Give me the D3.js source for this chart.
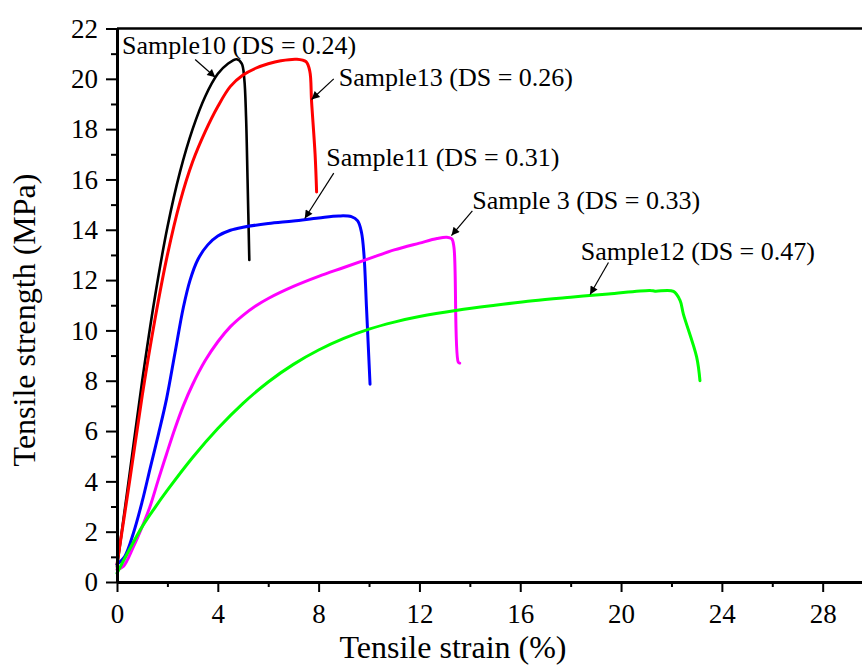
<!DOCTYPE html>
<html>
<head>
<meta charset="utf-8">
<script src="https://cdn.jsdelivr.net/npm/d3@7"></script>
<style>
html,body{margin:0;padding:0;background:#fff;}
svg{display:block;}
text{font-family:"Liberation Serif","Times New Roman",serif;fill:#000;}
</style>
</head>
<body>
<svg id="chart" width="862" height="665"></svg>
<script>
// ---- data (strain %, stress MPa) ----
const strain10 = [0,0.5,1.0,1.5,2.0,2.5,3.0,3.5,4.0,4.4,4.75,4.95,5.05,5.12,5.18,5.25];
const stress10 = [0.6,4.3,8.0,11.3,14.1,16.3,18.0,19.3,20.2,20.6,20.78,20.6,20.0,18.5,16.0,12.8];

const strain13 = [0,0.5,1.0,1.5,2.0,2.5,3.0,3.5,4.0,4.5,5.0,5.5,6.0,6.5,7.13,7.5,7.65,7.72,7.86,7.92];
const stress13 = [0.7,4.0,7.4,10.4,13.0,15.1,16.7,17.9,18.9,19.7,20.15,20.42,20.6,20.72,20.78,20.68,20.3,19.1,17.0,15.5];

const strain11 = [0,0.3,0.65,1.0,1.31,1.65,1.97,2.3,2.63,2.9,3.2,3.6,4.0,4.5,5.0,6.0,7.0,8.0,8.8,9.3,9.55,9.7,9.8,9.9,10.04];
const stress11 = [0.7,1.0,1.94,3.2,4.5,5.9,7.3,9.1,10.9,12.0,12.8,13.4,13.75,13.98,14.1,14.25,14.35,14.47,14.55,14.52,14.35,13.9,13.0,10.9,7.86];

const strain3 = [0,0.25,0.65,1.0,1.31,1.65,1.97,2.3,2.63,3.0,3.5,4.0,4.5,5.0,5.5,6.0,7.0,8.0,9.0,10.0,11.0,12.0,12.7,13.08,13.28,13.37,13.54,13.6];
const stress3 = [0.5,0.62,1.4,2.2,3.0,4.1,5.1,6.1,7.0,7.85,8.8,9.55,10.15,10.6,10.97,11.27,11.75,12.15,12.5,12.85,13.2,13.47,13.65,13.7,13.64,13.3,8.74,8.7];

const strain12 = [0,0.5,1.0,1.5,2.0,3.0,4.0,5.0,6.0,7.0,8.0,9.0,10.0,11.0,12.0,13.5,15.0,16.5,18.0,19.5,21.15,21.35,22.08,22.34,22.47,23.0,23.13];
const stress12 = [0.35,1.3,2.2,2.95,3.65,4.95,6.1,7.1,7.95,8.65,9.22,9.68,10.05,10.33,10.55,10.8,11.0,11.18,11.32,11.45,11.59,11.56,11.55,11.19,10.66,8.94,8.0];

const seriesColors = ["#000000","#ff0000","#0000ff","#ff00ff","#00ff00"];
const labels = ["Sample10 (DS = 0.24)","Sample13 (DS = 0.26)","Sample11 (DS = 0.31)","Sample 3 (DS = 0.33)","Sample12 (DS = 0.47)"];

const xMajor = [0,4,8,12,16,20,24,28];
const xMinor = [2,6,10,14,18,22,26];
const yMajor = [0,2,4,6,8,10,12,14,16,18,20,22];
const yMinor = [1,3,5,7,9,11,13,15,17,19,21];

// annotation: text start/baseline, arrow tail, arrow head (data units)
const annText = [[0.2,21.0],[8.8,19.7],[8.3,16.55],[14.1,14.84],[18.4,12.78]];
const annTail = [[3.1,20.77],[8.6,20.0],[8.6,16.25],[14.1,14.75],[19.5,12.7]];
const annHead = [[3.9,20.06],[7.72,19.18],[7.45,14.45],[13.27,13.77],[18.77,11.43]];

// ---- drawing ----
const svg = d3.select("#chart");
const x = d3.scaleLinear().domain([0, 29.56]).range([117, 862]);
const y = d3.scaleLinear().domain([0, 22]).range([582, 28.5]);

svg.append("defs").append("marker")
  .attr("id","arr").attr("viewBox","0 0 10 10").attr("refX",10).attr("refY",5)
  .attr("markerWidth",11).attr("markerHeight",8).attr("markerUnits","userSpaceOnUse")
  .attr("orient","auto")
  .append("path").attr("d","M0,0L10,5L0,10Z").attr("fill","#000");

// top frame line
svg.append("line").attr("x1",x(0)).attr("x2",862).attr("y1",y(22)).attr("y2",y(22))
  .attr("stroke","#000").attr("stroke-width",2.5);

// curves
const sets = [[strain10,stress10],[strain13,stress13],[strain11,stress11],[strain3,stress3],[strain12,stress12]];
const line = d3.line().x(d=>x(d[0])).y(d=>y(d[1])).curve(d3.curveCatmullRom.alpha(0.5));
sets.forEach((s,i)=>{
  const pts = s[0].map((v,j)=>[v,s[1][j]]);
  svg.append("path").datum(pts).attr("d",line)
    .attr("fill","none").attr("stroke",seriesColors[i]).attr("stroke-width",i===0?2.6:3)
    .attr("stroke-linejoin","round").attr("stroke-linecap","round");
});

// axes
function styleAxis(g){
  g.selectAll("path.domain").attr("stroke","#000").attr("stroke-width",3);
  g.selectAll(".tick line").attr("stroke","#000").attr("stroke-width",2);
  g.selectAll("text").style("font-family","'Liberation Serif',serif").style("font-size","27px").attr("fill","#000");
}
const gxMinor = svg.append("g").attr("transform",`translate(0,${y(0)})`)
  .call(d3.axisBottom(x).tickValues(xMinor).tickSize(5).tickFormat(""));
styleAxis(gxMinor);
const gx = svg.append("g").attr("transform",`translate(0,${y(0)})`)
  .call(d3.axisBottom(x).tickValues(xMajor).tickSize(10).tickSizeOuter(0).tickPadding(12).tickFormat(d3.format("d")));
styleAxis(gx);
const gyMinor = svg.append("g").attr("transform",`translate(${x(0)},0)`)
  .call(d3.axisLeft(y).tickValues(yMinor).tickSize(6).tickFormat(""));
styleAxis(gyMinor);
const gy = svg.append("g").attr("transform",`translate(${x(0)},0)`)
  .call(d3.axisLeft(y).tickValues(yMajor).tickSize(11).tickSizeOuter(0).tickPadding(8).tickFormat(d3.format("d")));
styleAxis(gy);
gxMinor.select("path.domain").remove();
gyMinor.select("path.domain").remove();

// axis titles
svg.append("text").attr("x",453).attr("y",658).attr("text-anchor","middle")
  .style("font-size","32px").text("Tensile strain (%)");
svg.append("text").attr("transform","translate(35,320) rotate(-90)").attr("text-anchor","middle")
  .style("font-size","32px").text("Tensile strength (MPa)");

// annotations
labels.forEach((t,i)=>{
  svg.append("text").attr("x",x(annText[i][0])).attr("y",y(annText[i][1]))
    .style("font-size","26px").text(t);
  svg.append("line")
    .attr("x1",x(annTail[i][0])).attr("y1",y(annTail[i][1]))
    .attr("x2",x(annHead[i][0])).attr("y2",y(annHead[i][1]))
    .attr("stroke","#000").attr("stroke-width",1.2).attr("marker-end","url(#arr)");
});
</script>
</body>
</html>
